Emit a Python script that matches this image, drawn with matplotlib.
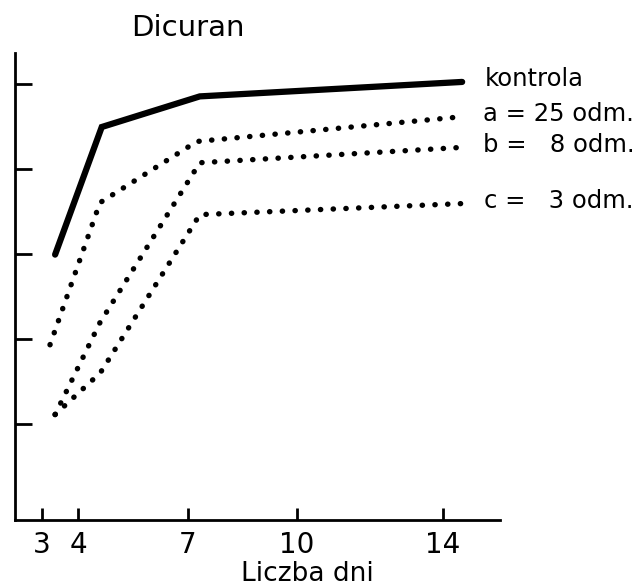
import matplotlib.pyplot as plt

# days (x) and response (y, arbitrary units, ticks unlabelled)
kontrola_x = [3.36, 4.64, 7.33, 14.53]
kontrola_y = [2.99, 4.49, 4.85, 5.02]

a_x = [3.22, 4.59, 7.25, 14.50]
a_y = [1.93, 3.60, 4.32, 4.61]

b_x = [3.36, 4.59, 7.33, 14.50]
b_y = [1.11, 2.19, 4.07, 4.25]

c_x = [3.36, 4.60, 7.33, 14.53]
c_y = [1.11, 1.60, 3.46, 3.59]

labels = ["kontrola", "a = 25 odm.", "b =   8 odm.", "c =   3 odm."]
x_ticks = [3, 4, 7, 10, 14]
y_ticks = [1, 2, 3, 4, 5]

fig = plt.figure(figsize=(6.42, 5.87), dpi=100)
ax = fig.add_axes([0.0234, 0.1141, 0.7555, 0.7956])

ax.plot(kontrola_x, kontrola_y, color="black", lw=4.5,
        solid_capstyle="round", solid_joinstyle="miter")
dots = (0, (0.05, 2.3))
for xs, ys in [(a_x, a_y), (b_x, b_y), (c_x, c_y)]:
    ax.plot(xs, ys, color="black", lw=3.9, linestyle=dots,
            dash_capstyle="round")

# labels at the right end of each line
for xs, ys, lab in zip([kontrola_x, a_x, b_x, c_x],
                       [kontrola_y, a_y, b_y, c_y], labels):
    ax.annotate(lab, (xs[-1], ys[-1]), xytext=(16, 2),
                textcoords="offset points", va="center", ha="left",
                fontsize=17.5, annotation_clip=False)

ax.set_xlim(2.26, 15.57)
ax.set_ylim(-0.13, 5.36)
ax.set_xticks(x_ticks)
ax.set_xticklabels([str(t) for t in x_ticks])
ax.set_yticks(y_ticks)
ax.set_yticklabels([])

for side in ["top", "right"]:
    ax.spines[side].set_visible(False)
for side in ["left", "bottom"]:
    ax.spines[side].set_linewidth(2.0)
    ax.spines[side].set_color("black")

ax.tick_params(axis="x", direction="in", length=9, width=2, pad=8,
               labelsize=20)
ax.tick_params(axis="y", direction="in", length=12, width=2)

ax.set_xlabel("Liczba dni", fontsize=19)
ax.xaxis.set_label_coords(0.602, -0.088)

fig.text(188 / 642, 1 - 28 / 587, "Dicuran", fontsize=21,
         ha="center", va="center")

fig.savefig("out.png", dpi=100)
